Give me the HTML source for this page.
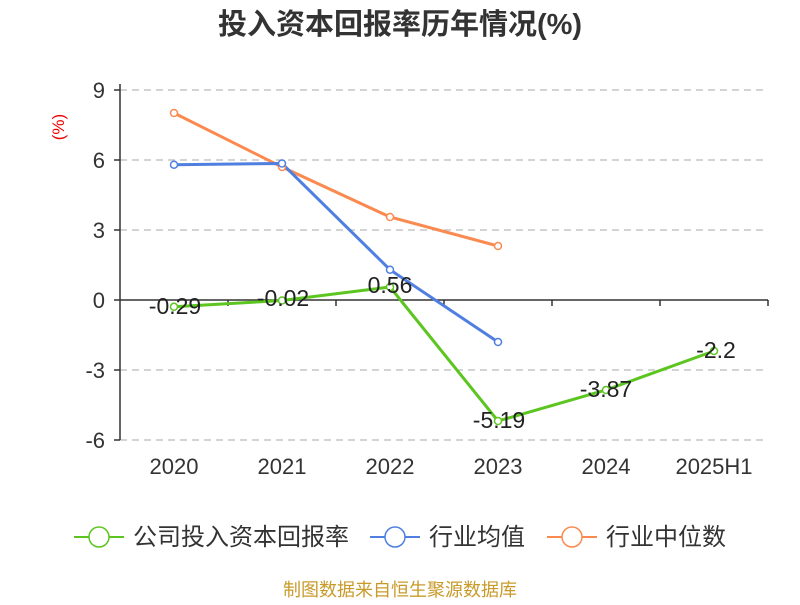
<!DOCTYPE html>
<html><head><meta charset="utf-8"><style>
html,body{margin:0;padding:0;background:#fff;}
svg text{font-family:"Liberation Sans","Noto Sans CJK SC",sans-serif;}
</style></head><body>
<svg width="800" height="600" xmlns="http://www.w3.org/2000/svg">
<text x="400" y="34" text-anchor="middle" font-size="29" font-weight="bold" fill="#333">投入资本回报率历年情况(%)</text>
<text x="64" y="127" font-size="17" fill="#e00" text-anchor="middle" transform="rotate(-90 64 127)">(%)</text>
<g stroke="#bbb" stroke-dasharray="7,5" stroke-width="1.3">
<line x1="120" y1="90" x2="768" y2="90"/><line x1="120" y1="160" x2="768" y2="160"/>
<line x1="120" y1="230" x2="768" y2="230"/><line x1="120" y1="370" x2="768" y2="370"/>
<line x1="120" y1="440" x2="768" y2="440"/>
</g>
<line x1="120" y1="84" x2="120" y2="440" stroke="#333" stroke-width="1.5"/>
<g stroke="#333" stroke-width="1.5">
<line x1="114" y1="90" x2="120" y2="90"/><line x1="114" y1="160" x2="120" y2="160"/><line x1="114" y1="230" x2="120" y2="230"/>
<line x1="114" y1="300" x2="120" y2="300"/><line x1="114" y1="370" x2="120" y2="370"/><line x1="114" y1="440" x2="120" y2="440"/>
<line x1="120" y1="300" x2="768" y2="300"/>
<line x1="228" y1="300" x2="228" y2="306"/><line x1="336" y1="300" x2="336" y2="306"/><line x1="444" y1="300" x2="444" y2="306"/>
<line x1="552" y1="300" x2="552" y2="306"/><line x1="660" y1="300" x2="660" y2="306"/><line x1="768" y1="300" x2="768" y2="306"/>
</g>
<g font-size="22" fill="#333" text-anchor="end">
<text x="105" y="98">9</text><text x="105" y="168">6</text><text x="105" y="238">3</text>
<text x="105" y="308">0</text><text x="105" y="378">-3</text><text x="105" y="448">-6</text>
</g>
<g font-size="22" fill="#333" text-anchor="middle">
<text x="174" y="474">2020</text><text x="282" y="474">2021</text><text x="390" y="474">2022</text>
<text x="498" y="474">2023</text><text x="606" y="474">2024</text><text x="714" y="474">2025H1</text>
</g>
<polyline points="174,113 282,167 390,217 498,246" fill="none" stroke="#fa8a50" stroke-width="3"/>
<polyline points="174,164.7 282,163.5 390,269.7 498,342" fill="none" stroke="#4f7fe0" stroke-width="3"/>
<polyline points="174,306.8 282,300.5 390,287 498,421 606,390 714,351" fill="none" stroke="#5cc520" stroke-width="3"/>
<g fill="#fff" stroke-width="1.5">
<g stroke="#fa8a50"><circle cx="174" cy="113" r="3.5"/><circle cx="282" cy="167" r="3.5"/><circle cx="390" cy="217" r="3.5"/><circle cx="498" cy="246" r="3.5"/></g>
<g stroke="#4f7fe0"><circle cx="174" cy="164.7" r="3.5"/><circle cx="282" cy="163.5" r="3.5"/><circle cx="390" cy="269.7" r="3.5"/><circle cx="498" cy="342" r="3.5"/></g>
<g stroke="#5cc520"><circle cx="174" cy="306.8" r="3.5"/><circle cx="282" cy="300.5" r="3.5"/><circle cx="390" cy="287" r="3.5"/><circle cx="498" cy="421" r="3.5"/><circle cx="606" cy="390" r="3.5"/><circle cx="714" cy="351" r="3.5"/></g>
</g>
<g font-size="23" fill="#222" text-anchor="middle">
<text x="175" y="314">-0.29</text><text x="283" y="306">-0.02</text><text x="390" y="293">0.56</text>
<text x="499" y="428">-5.19</text><text x="606" y="397">-3.87</text><text x="716" y="358">-2.2</text>
</g>
<g font-size="24" fill="#333">
<line x1="74" y1="537" x2="124" y2="537" stroke="#5cc520" stroke-width="2"/><circle cx="99" cy="537" r="10" fill="#fff" stroke="#5cc520" stroke-width="1.5"/>
<text x="133" y="545">公司投入资本回报率</text>
<line x1="370" y1="537" x2="420" y2="537" stroke="#4f7fe0" stroke-width="2"/><circle cx="395" cy="537" r="10" fill="#fff" stroke="#4f7fe0" stroke-width="1.5"/>
<text x="429" y="545">行业均值</text>
<line x1="547" y1="537" x2="597" y2="537" stroke="#fa8a50" stroke-width="2"/><circle cx="572" cy="537" r="10" fill="#fff" stroke="#fa8a50" stroke-width="1.5"/>
<text x="606" y="545">行业中位数</text>
</g>
<text x="400" y="596" text-anchor="middle" font-size="18" fill="#c89a2a">制图数据来自恒生聚源数据库</text>
</svg>
</body></html>
